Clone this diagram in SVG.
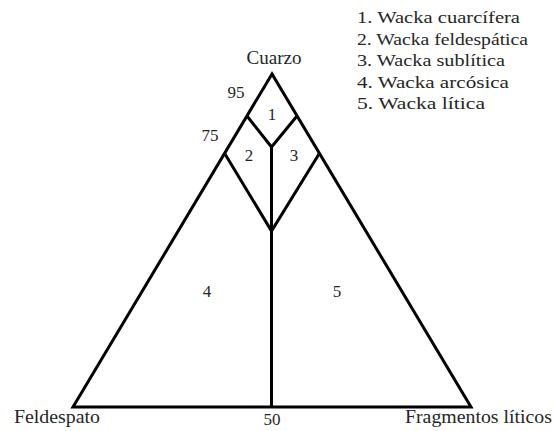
<svg xmlns="http://www.w3.org/2000/svg" width="554" height="431" viewBox="0 0 554 431">
<style>
text{font-family:'Liberation Serif','Times New Roman',Times,serif;fill:#262626}
.t{font-size:18px}
.n{font-size:17px}
.ln{fill:none;stroke:#000;stroke-width:3;stroke-linejoin:miter}
</style>
<rect width="554" height="431" fill="#fff"/>
<g id="connectors">
<polygon class="ln" points="272,74 73,407 471,407"/>
<polyline class="ln" points="247,116 271.5,147 297,116"/>
<polyline class="ln" points="225,154 271.5,231 319,154"/>
<line class="ln" x1="271.5" y1="147" x2="271.5" y2="407"/>
</g>
<g id="vertex-cuarzo"><text class="t" x="274" y="64" text-anchor="middle" textLength="55" lengthAdjust="spacingAndGlyphs">Cuarzo</text></g>
<g id="vertex-feldespato"><text class="t" x="14" y="423" textLength="86" lengthAdjust="spacingAndGlyphs">Feldespato</text></g>
<g id="vertex-fragmentos"><text class="t" x="405" y="423" textLength="147" lengthAdjust="spacingAndGlyphs">Fragmentos líticos</text></g>
<g id="tick-50"><text class="n" x="272" y="425" text-anchor="middle">50</text></g>
<g id="tick-95"><text class="n" x="236" y="98" text-anchor="middle">95</text></g>
<g id="tick-75"><text class="n" x="210" y="141" text-anchor="middle">75</text></g>
<g id="field-1"><text class="n" x="272" y="120" text-anchor="middle">1</text></g>
<g id="field-2"><text class="n" x="249" y="161" text-anchor="middle">2</text></g>
<g id="field-3"><text class="n" x="294" y="161" text-anchor="middle">3</text></g>
<g id="field-4"><text class="n" x="207" y="297" text-anchor="middle">4</text></g>
<g id="field-5"><text class="n" x="337" y="297" text-anchor="middle">5</text></g>
<g id="legend">
<text class="n" x="357" y="23" textLength="163" lengthAdjust="spacingAndGlyphs">1. Wacka cuarcífera</text>
<text class="n" x="357" y="44.5" textLength="171" lengthAdjust="spacingAndGlyphs">2. Wacka feldespática</text>
<text class="n" x="357" y="66" textLength="148" lengthAdjust="spacingAndGlyphs">3. Wacka sublítica</text>
<text class="n" x="357" y="87.5" textLength="152" lengthAdjust="spacingAndGlyphs">4. Wacka arcósica</text>
<text class="n" x="357" y="109" textLength="128" lengthAdjust="spacingAndGlyphs">5. Wacka lítica</text>
</g>
</svg>
